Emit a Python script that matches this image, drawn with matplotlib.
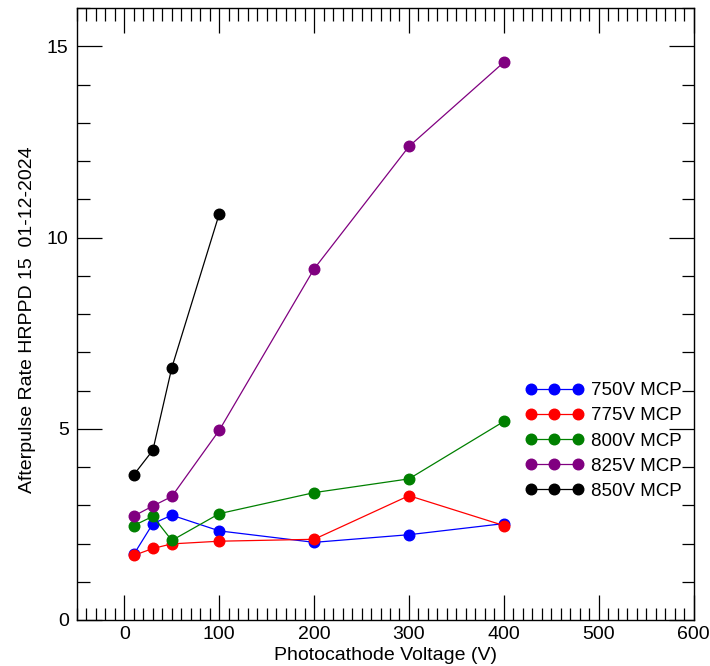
import matplotlib
matplotlib.use("Agg")
import matplotlib.pyplot as plt
from matplotlib.ticker import MultipleLocator

plt.rcParams['font.family'] = ['Liberation Sans', 'DejaVu Sans']

voltage = [10, 30, 50, 100, 200, 300, 400]
voltage_850 = [10, 30, 50, 100]
rate_750 = [1.72, 2.52, 2.74, 2.33, 2.03, 2.23, 2.52]
rate_775 = [1.69, 1.87, 1.99, 2.06, 2.11, 3.25, 2.47]
rate_800 = [2.47, 2.71, 2.08, 2.78, 3.33, 3.69, 5.19]
rate_825 = [2.72, 2.98, 3.23, 4.96, 9.18, 12.38, 14.58]
rate_850 = [3.80, 4.44, 6.60, 10.62]
labels = ["750V MCP", "775V MCP", "800V MCP", "825V MCP", "850V MCP"]
colors = ["#0000ff", "#ff0000", "#008000", "#800080", "#000000"]

fig = plt.figure(figsize=(7.1, 6.66), dpi=100)
ax = fig.add_axes([77/710, 46/666, (693.5-77)/710, (620-8)/666])

series = [(voltage, rate_750), (voltage, rate_775), (voltage, rate_800),
          (voltage, rate_825), (voltage_850, rate_850)]
for (xs, ys), lab, c in zip(series, labels, colors):
    ax.plot(xs, ys, '-o', color=c, lw=0.9, ms=7.6, label=lab)

ax.set_xlim(-50, 600)
ax.set_ylim(0, 16)
ax.xaxis.set_major_locator(MultipleLocator(100))
ax.xaxis.set_minor_locator(MultipleLocator(10))
ax.yaxis.set_major_locator(MultipleLocator(5))
ax.yaxis.set_minor_locator(MultipleLocator(1))
ax.tick_params(which='both', direction='in', top=True, right=True, labelsize=14, width=0.9)
ax.tick_params(which='major', length=18)
ax.tick_params(which='minor', length=9)
ax.tick_params(axis='y', pad=6)
ax.tick_params(axis='x', pad=4)
for s in ax.spines.values():
    s.set_linewidth(1.0)

ax.set_xlabel("Photocathode Voltage (V)", fontsize=14, labelpad=3)
ax.set_ylabel("Afterpulse Rate HRPPD 15  01-12-2024", fontsize=14, va='center')
ax.yaxis.set_label_coords((27 - 77) / 616.5, (620 - 320) / 612)

ax.legend(loc='upper left', bbox_to_anchor=((525-77)/(693.5-77), (620-382)/612),
          frameon=False, numpoints=3, handlelength=3.1, handletextpad=0.4,
          borderpad=0, borderaxespad=0, labelspacing=0.43, fontsize=13.5)

fig.savefig("out.png", dpi=100)
